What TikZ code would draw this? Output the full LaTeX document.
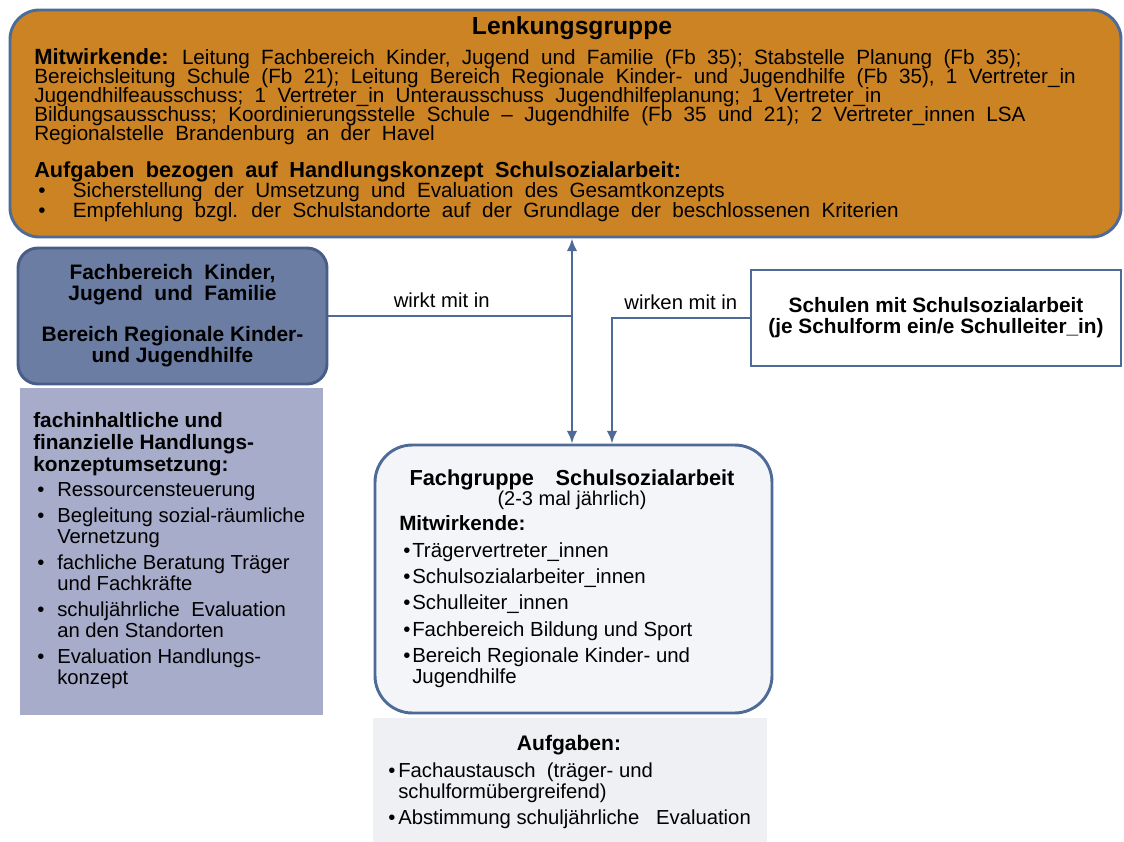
\documentclass[tikz,border=0pt]{standalone}
\usepackage{fontspec}
\setmainfont{Liberation Sans}
\usetikzlibrary{arrows.meta, fit}

\definecolor{linecol}{RGB}{78,106,151}
\definecolor{lenkfill}{RGB}{204,131,36}
\definecolor{fbfill}{RGB}{107,125,162}
\definecolor{fbline}{RGB}{72,93,135}
\definecolor{taskfill}{RGB}{166,172,201}
\definecolor{fgfill}{RGB}{244,245,248}
\definecolor{aufgfill}{RGB}{239,240,243}

\newcommand{\blt}[1]{\makebox[#1][l]{\hspace{3pt}\textbullet}}
\newcommand{\widesp}{\spaceskip=0.55em plus 0.1em\relax\lineskiplimit=-20pt\relax}
\newcommand{\hd}[2]{{\fontsize{#1}{14}\selectfont\bfseries #2}}

\begin{document}
\begin{tikzpicture}[x=0.75pt, y=-0.75pt,
    box/.style={draw=linecol, line width=2.2pt, inner sep=0pt},
    txt/.style={inner sep=0pt, anchor=north west, align=left, font=\fontsize{15.2}{15.75}\selectfont},
    link/.style={draw=linecol, line width=2.2pt},
    >={Latex[length=9.5pt, width=8pt]}]
    \useasboundingbox (0,0) rectangle (1124,842);

    % Draw nodes
    \node[box, fill=lenkfill, rounded corners=22pt, fit={(10,10) (1121,237)}] (lenk) {};
    \node[box, fill=fbfill, draw=fbline, rounded corners=15pt, minimum width=231.75pt, minimum height=102pt,
          align=center, font=\fontsize{15.7}{15.75}\selectfont\bfseries] (fb) at (172.5,316)
          {Fachbereich\ \ Kinder,\\ Jugend\ \ und\ \ Familie\\[15pt] Bereich Regionale Kinder-\\ und Jugendhilfe};
    \node[fill=taskfill, inner sep=0pt, fit={(20,388) (323,715)}] (task) {};
    \node[box, fill=white, minimum width=277.5pt, minimum height=72pt, align=center,
          font=\fontsize{15.6}{15.75}\selectfont\bfseries] (schulen) at (936,318)
          {Schulen mit Schulsozialarbeit\\ (je Schulform ein/e Schulleiter\_in)};
    \node[box, fill=fgfill, rounded corners=28pt, fit={(375,445) (772,713)}] (fg) {};
    \node[fill=aufgfill, inner sep=0pt, fit={(373,718) (767,842)}] (aufg) {};

    % Texts in the boxes
    \node[anchor=base, inner sep=0pt, font=\fontsize{18.5}{20}\selectfont\bfseries] (lenktitle) at (572,35) {Lenkungsgruppe};
    \node[txt, font=\fontsize{15.5}{14.25}\selectfont\widesp] (lenkmit) at (34,48.5)
        {\hd{16.5}{Mitwirkende:} Leitung Fachbereich Kinder, Jugend und Familie (Fb 35); Stabstelle Planung (Fb 35);\\
         Bereichsleitung Schule (Fb 21); Leitung Bereich Regionale Kinder- und Jugendhilfe (Fb 35), 1 Vertreter\_in\\
         Jugendhilfeausschuss; 1 Vertreter\_in Unterausschuss Jugendhilfeplanung; 1 Vertreter\_in\\
         Bildungsausschuss; Koordinierungsstelle Schule – Jugendhilfe (Fb 35 und 21); 2 Vertreter\_innen LSA\\
         Regionalstelle Brandenburg an der Havel};
    \node[txt, font=\fontsize{15.5}{15.25}\selectfont\widesp] (lenkauf) at (34,161)
        {\hd{16.3}{Aufgaben bezogen auf Handlungskonzept Schulsozialarbeit:}\\
         \blt{29pt}Sicherstellung der Umsetzung und Evaluation des Gesamtkonzepts\\
         \blt{29pt}Empfehlung bzgl. der Schulstandorte auf der Grundlage der beschlossenen Kriterien};
    \node[txt] (tasktext) at (33,412.4)
        {\hd{15.6}{fachinhaltliche und}\\[0.75pt]
         \hd{15.6}{finanzielle Handlungs-}\\[0.75pt]
         \hd{15.6}{konzeptumsetzung:}\\[3pt]
         \blt{18pt}Ressourcensteuerung\\[3.75pt]
         \blt{18pt}Begleitung sozial-räumliche\\ \hspace*{18pt}Vernetzung\\[3.75pt]
         \blt{18pt}fachliche Beratung Träger\\ \hspace*{18pt}und Fachkräfte\\[3.75pt]
         \blt{18pt}schuljährliche\ \ Evaluation\\ \hspace*{18pt}an den Standorten\\[3.75pt]
         \blt{18pt}Evaluation Handlungs-\\ \hspace*{18pt}konzept};
    \node[anchor=north, inner sep=0pt, align=center, font=\fontsize{15}{14.25}\selectfont] (fgtitle) at (572,469)
        {\hd{16.3}{Fachgruppe\quad Schulsozialarbeit}\\ (2-3 mal jährlich)};
    \node[txt, font=\fontsize{15.3}{15.75}\selectfont] (fgmit) at (399,515.4)
        {\hd{15.5}{Mitwirkende:}\\[4.5pt]
         \blt{9.75pt}Trägervertreter\_innen\\[3.75pt]
         \blt{9.75pt}Schulsozialarbeiter\_innen\\[3.75pt]
         \blt{9.75pt}Schulleiter\_innen\\[4.5pt]
         \blt{9.75pt}Fachbereich Bildung und Sport\\[3.75pt]
         \blt{9.75pt}Bereich Regionale Kinder- und\\ \hspace*{9.75pt}Jugendhilfe};
    \node[anchor=base, inner sep=0pt, font=\fontsize{15.8}{15.75}\selectfont\bfseries] (aufgtitle) at (569,750) {Aufgaben:};
    \node[txt] (aufgtext) at (384,762.4)
        {\blt{10.5pt}Fachaustausch\ \ (träger- und\\ \hspace*{10.5pt}schulformübergreifend)\\[3.75pt]
         \blt{10.5pt}Abstimmung schuljährliche\ \ \ Evaluation};

    % Draw connections
    \coordinate (junc) at (572,317);
    \coordinate (turn) at (612,318);
    \draw[link, <->] (junc |- lenk.south) -- (junc |- fg.north);
    \draw[link] (fb.east) -- (fb.east -| junc)
        node[pos=0.465, above=5.5pt, inner sep=0pt, font=\fontsize{15.2}{15.75}\selectfont] (wirkt) {wirkt mit in};
    \draw[link, ->] (schulen.west) -| (fg.north -| turn)
        node[pos=0.25, above=5.5pt, inner sep=0pt, font=\fontsize{15.2}{15.75}\selectfont] (wirken) {wirken mit in};
\end{tikzpicture}
\end{document}
